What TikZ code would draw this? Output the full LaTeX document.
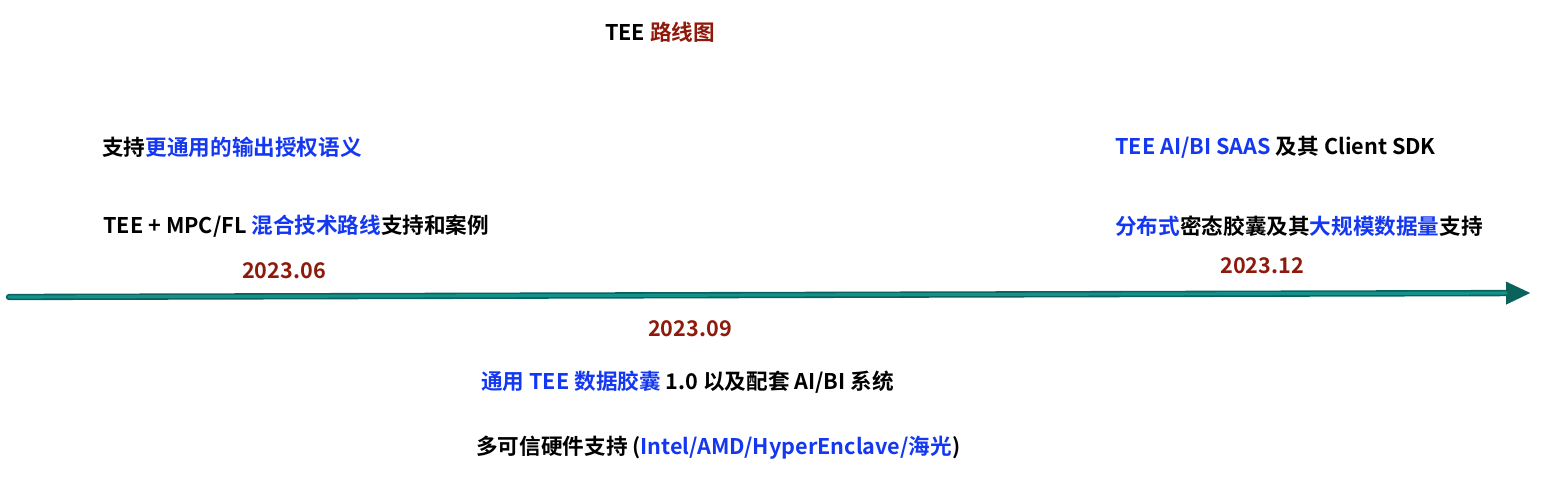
\documentclass[tikz,border=0pt]{standalone}
\usepackage{fontspec}
\setmainfont{Noto Sans CJK SC}[BoldFont={Noto Sans CJK SC Bold}]
\usetikzlibrary{arrows.meta, positioning}
\definecolor{rmBlue}{HTML}{1438F2}
\definecolor{rmRed}{HTML}{8E1A0C}
\definecolor{rmTeal}{HTML}{13918A}
\definecolor{rmDark}{HTML}{0A625C}
\tikzset{
  axisline/.style  = {-{Triangle[length=0.5cm, width=0.42cm]}, line width=3.6pt, rmDark, line cap=round},
  axisfill/.style  = {line width=1.8pt, rmTeal, line cap=round, shorten >=0.5cm},
  txt/.style       = {anchor=west, inner sep=0pt, font=\fontsize{12.3}{14}\selectfont\bfseries},
  datelbl/.style   = {inner sep=0pt, text=rmRed, font=\fontsize{12.3}{14}\selectfont\bfseries},
}
\newcommand{\hl}[1]{\textcolor{rmBlue}{#1}}
\begin{document}
\begin{tikzpicture}[x=0.02cm,y=-0.02cm]
  \useasboundingbox (0,0) rectangle (1548,477);
  \node[inner sep=0pt, font=\fontsize{12.3}{14}\selectfont\bfseries] (title) at (660,32) {TEE \textcolor{rmRed}{路线图}};
  % timeline
  \coordinate (start) at (9,297);
  \coordinate (end) at (1531,293);
  \draw[axisline] (start) -- (end);
  \draw[axisfill] (start) -- (end);
  % 2023.06
  \node[datelbl] (d06) at (284,271) {2023.06};
  \node[txt] (a1) at (102,147) {支持\hl{更通用的输出授权语义}};
  \node[txt] (a2) at (103,226) {TEE + MPC/FL \hl{混合技术路线}支持和案例};
  % 2023.09
  \node[datelbl] (d09) at (690,329) {2023.09};
  \node[txt] (b1) at (481,382) {\hl{通用 TEE 数据胶囊} 1.0 以及配套 AI/BI 系统};
  \node[txt] (b2) at (476,448) {多可信硬件支持 (\hl{Intel/AMD/HyperEnclave/海光})};
  % 2023.12
  \node[datelbl] (d12) at (1262,266) {2023.12};
  \node[txt] (c1) at (1115,147) {\hl{TEE AI/BI SAAS} 及其 Client SDK};
  \node[txt] (c2) at (1115,226) {\hl{分布式}密态胶囊及其\hl{大规模数据量}支持};
\end{tikzpicture}
\end{document}
